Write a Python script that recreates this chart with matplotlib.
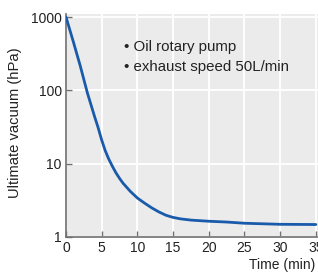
import matplotlib.pyplot as plt
from matplotlib.ticker import FixedLocator, NullLocator

plt.rcParams["font.family"] = ["Liberation Sans", "DejaVu Sans"]

# pressure curve (time in min, vacuum in hPa)
time_min = [0, 1, 2, 3, 4, 4.5, 5, 5.5, 6, 6.5, 7, 7.5, 8, 9, 10, 11, 12,
            13, 14, 15, 16, 17.5, 20, 22.5, 25, 30, 35]
vacuum_hpa = [1000, 470, 215, 92, 44, 31, 21, 15, 11.5, 9.2, 7.5, 6.3, 5.4,
              4.2, 3.4, 2.9, 2.5, 2.2, 1.98, 1.85, 1.77, 1.7, 1.64, 1.6,
              1.54, 1.49, 1.48]

x_ticks = [0, 5, 10, 15, 20, 25, 30, 35]
y_ticks = [1, 10, 100, 1000]
y_tick_labels = ["1", "10", "100", "1000"]
notes = ["Oil rotary pump", "exhaust speed 50L/min"]

fig = plt.figure(figsize=(3.18, 2.72), dpi=100)
ax = fig.add_axes([66 / 318, 1 - 237 / 272, 252 / 318, 223 / 272])
ax.set_facecolor("#ebebeb")

ax.plot(time_min, vacuum_hpa, color="#1a5aab", linewidth=2.0,
        solid_capstyle="round", solid_joinstyle="round", zorder=3)

ax.set_yscale("log")
ax.set_xlim(0, 35.3)
ax.set_ylim(1, 1100)
ax.xaxis.set_major_locator(FixedLocator(x_ticks))
ax.yaxis.set_major_locator(FixedLocator(y_ticks))
ax.yaxis.set_minor_locator(NullLocator())
ax.set_yticklabels(y_tick_labels)

ax.grid(True, color="white", linewidth=1.3, zorder=0)
ax.set_axisbelow(True)
for side in ("top", "right"):
    ax.spines[side].set_visible(False)
for side in ("left", "bottom"):
    ax.spines[side].set_color("#707070")
    ax.spines[side].set_linewidth(1.2)
ax.tick_params(direction="in", length=4, width=1, color="#707070",
               labelsize=10, labelcolor="#222222", pad=3)

for i, note in enumerate(notes):
    ax.text(0.232, 0.852 - i * 0.09, "\u2022 " + note, transform=ax.transAxes,
            fontsize=10.8, color="#222222", va="center", ha="left")

fig.text(15 / 318, 1 - 123 / 272, "Ultimate vacuum (hPa)", rotation=90,
         fontsize=10.6, color="#222222", ha="center", va="center")
fig.text(249 / 318, 1 - 265 / 272, "Time (min)", fontsize=10,
         color="#222222", ha="left", va="center")

fig.savefig("out.png", dpi=100)
